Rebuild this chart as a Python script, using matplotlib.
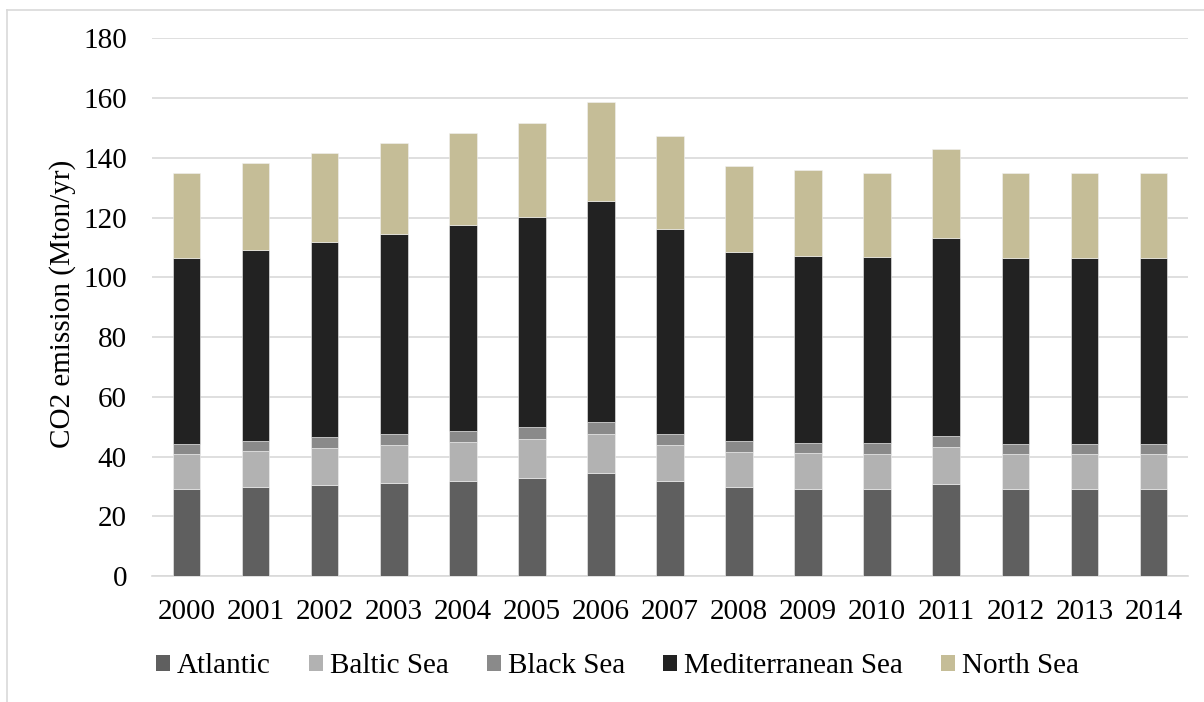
import matplotlib
matplotlib.use("Agg")

import numpy as np
import matplotlib.pyplot as plt
import matplotlib.patches as patches
import matplotlib.lines as mlines

# ----------------------
# Emission data (Mton/yr) by sea basin
# ----------------------
years = ["2000", "2001", "2002", "2003", "2004", "2005", "2006", "2007",
         "2008", "2009", "2010", "2011", "2012", "2013", "2014"]

atlantic = [29.0, 29.8, 30.5, 31.1, 31.9, 32.8, 34.5, 31.8, 29.7, 29.2, 29.0, 30.9, 29.0, 29.0, 29.0]
baltic = [11.8, 12.0, 12.3, 12.7, 13.1, 13.1, 13.0, 12.2, 11.8, 12.0, 11.8, 12.3, 11.8, 11.8, 11.8]
black_sea = [3.4, 3.5, 3.6, 3.7, 3.5, 3.9, 3.9, 3.6, 3.6, 3.3, 3.6, 3.7, 3.4, 3.4, 3.4]
mediterranean = [62.4, 63.9, 65.5, 67.1, 68.9, 70.3, 74.1, 68.7, 63.5, 62.7, 62.3, 66.3, 62.4, 62.4, 62.4]
north_sea = [28.3, 28.9, 29.7, 30.3, 30.9, 31.6, 33.2, 31.0, 28.8, 28.6, 28.3, 29.7, 28.3, 28.3, 28.3]

series_names = ["Atlantic", "Baltic Sea", "Black Sea", "Mediterranean Sea", "North Sea"]
series_colors = ["#5f5f5f", "#b2b2b2", "#8a8a8a", "#222222", "#c5bd97"]

plt.rcParams["font.family"] = ["Liberation Serif", "DejaVu Serif"]
FS = 21
GRID = "#d9d9d9"

W, H = 1204, 702
fig = plt.figure(figsize=(W / 100, H / 100), dpi=100)

# plot area in pixel units -> figure fractions
left, right, top, bottom = 152, 1188, 38.3, 576
ax = fig.add_axes([left / W, 1 - bottom / H, (right - left) / W, (bottom - top) / H])

# chart area outline (runs off the right/bottom edge)
fig.add_artist(mlines.Line2D([7 / W, 7 / W], [0, 1 - 10 / H], transform=fig.transFigure, color=GRID, lw=1.2))
fig.add_artist(mlines.Line2D([7 / W, 1], [1 - 10 / H, 1 - 10 / H], transform=fig.transFigure, color=GRID, lw=1.2))

x = np.arange(len(years))
base = np.zeros(len(years))
for vals, name, col in zip([atlantic, baltic, black_sea, mediterranean, north_sea], series_names, series_colors):
    ax.bar(x, vals, width=0.4, bottom=base, color=col, label=name,
           edgecolor="#f2f2f2", linewidth=0.4, zorder=3)
    base = base + np.array(vals)

ax.set_xlim(-0.5, len(years) - 0.5)
ax.set_ylim(0, 180)
ax.set_yticks(np.arange(0, 181, 20))
ax.set_xticks(x)
ax.set_xticklabels(years)
ax.tick_params(axis="both", length=0, labelsize=FS)
ax.tick_params(axis="y", pad=18)
ax.tick_params(axis="x", pad=16.5)

ax.grid(axis="y", color=GRID, lw=1.2, zorder=0)
ax.set_axisbelow(True)
for s in ["top", "right", "left"]:
    ax.spines[s].set_visible(False)
ax.spines["bottom"].set_color(GRID)
ax.spines["bottom"].set_linewidth(1.2)

fig.text(63 / W, 1 - 304 / H, "CO2 emission (Mton/yr)", rotation=90,
         ha="center", va="center", fontsize=FS)

handles = [patches.Patch(facecolor=c, edgecolor="none") for c in series_colors]
fig.legend(handles, series_names, loc="center", bbox_to_anchor=(617.5 / W, 1 - 666 / H),
           ncol=5, frameon=False, fontsize=FS, handlelength=0.48, handleheight=0.48,
           handletextpad=0.25, columnspacing=1.3, borderpad=0)

fig.savefig("out.png", dpi=100)
plt.close(fig)
